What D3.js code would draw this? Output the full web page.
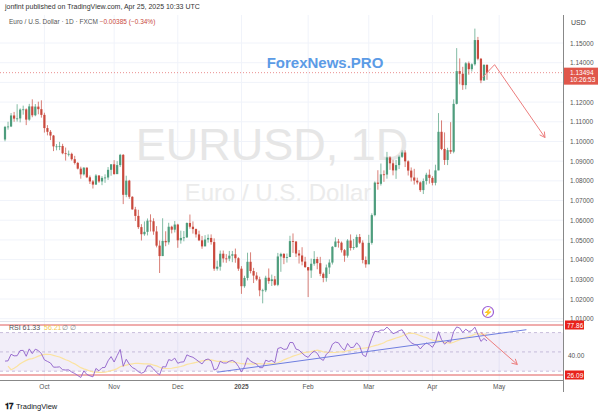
<!DOCTYPE html>
<html><head><meta charset="utf-8">
<script src="https://cdn.jsdelivr.net/npm/d3@7"></script>
<style>body{margin:0;background:#fff}svg{font-family:"Liberation Sans",Arial,sans-serif}</style>
</head><body><svg id="c" width="600" height="415"></svg>
<script>
const startDate = "2024-09-12";
const holidays = ["2024-12-25","2025-01-01"];
const priorCloses = [1.1162,1.1184,1.1118,1.1077,1.1047,1.1073,1.1045,1.1087,1.1110,1.1085,1.1026,1.1036,1.1010];
const closes = [1.1074,1.1076,1.1132,1.1116,1.1117,1.1162,1.1163,1.1111,1.1178,1.1133,1.1177,1.1164,1.1135,
1.1068,1.1049,1.1030,1.0975,1.0975,1.0977,1.0940,1.0936,1.0937,1.0910,1.0891,1.0862,1.0833,1.0867,1.0818,1.0797,1.0781,1.0827,1.0797,1.0815,1.0817,1.0856,1.0884,
1.0834,1.0880,1.0932,1.0729,1.0801,1.0719,1.0655,1.0622,1.0565,1.0529,1.0541,1.0598,1.0595,1.0543,1.0471,1.0418,1.0495,1.0488,1.0567,1.0552,1.0578,
1.0498,1.0510,1.0513,1.0586,1.0567,1.0555,1.0528,1.0498,1.0467,1.0502,1.0510,1.0489,1.0354,1.0364,1.0430,1.0406,1.0405,1.0420,1.0427,1.0407,1.0354,
1.0265,1.0307,1.0389,1.0342,1.0319,1.0300,1.0244,1.0244,1.0308,1.0291,1.0300,1.0272,1.0416,1.0429,1.0409,1.0413,1.0494,1.0492,1.0431,1.0421,1.0390,1.0362,
1.0345,1.0379,1.0403,1.0382,1.0328,1.0307,1.0360,1.0385,1.0465,1.0492,1.0486,1.0448,1.0420,1.0497,1.0459,1.0463,1.0515,1.0486,1.0398,1.0376,
1.0485,1.0626,1.0791,1.0785,1.0833,1.0832,1.0919,1.0889,1.0853,1.0880,1.0922,1.0944,1.0899,1.0852,1.0817,1.0801,1.0792,1.0753,1.0799,1.0831,1.0815,
1.0790,1.0853,1.1049,1.0962,1.0906,1.0956,1.0948,1.1191,1.1357,1.1344,1.1286,1.1397,1.1367,1.1392,1.1515,1.1420,1.1310,1.1389,1.1349];
const highs = [1.1079,1.1100,1.1144,1.1150,1.1189,1.1168,1.1182,1.1168,1.1191,1.1214,1.1190,1.1202,1.1209,
1.1146,1.1083,1.1058,1.1033,1.0987,1.0998,1.0988,1.0969,1.0954,1.0943,1.0927,1.0896,1.0872,1.0869,1.0868,1.0827,1.0804,1.0834,1.0829,1.0824,1.0833,1.0870,1.0885,
1.0905,1.0900,1.0937,1.0936,1.0826,1.0805,1.0722,1.0668,1.0653,1.0580,1.0594,1.0609,1.0630,1.0610,1.0570,1.0497,1.0610,1.0544,1.0587,1.0572,1.0596,
1.0582,1.0547,1.0545,1.0589,1.0629,1.0594,1.0558,1.0547,1.0520,1.0524,1.0528,1.0528,1.0508,1.0395,1.0446,1.0446,1.0428,1.0444,1.0444,1.0456,1.0412,
1.0367,1.0318,1.0435,1.0437,1.0358,1.0336,1.0313,1.0252,1.0318,1.0355,1.0324,1.0317,1.0434,1.0435,1.0433,1.0431,1.0521,1.0533,1.0493,1.0449,1.0463,1.0414,
1.0347,1.0405,1.0443,1.0414,1.0414,1.0335,1.0375,1.0401,1.0469,1.0513,1.0505,1.0492,1.0454,1.0504,1.0528,1.0505,1.0527,1.0530,1.0498,1.0416,
1.0526,1.0635,1.0797,1.0854,1.0888,1.0853,1.0947,1.0925,1.0907,1.0906,1.0929,1.0955,1.0955,1.0904,1.0868,1.0861,1.0816,1.0797,1.0812,1.0841,1.0858,
1.0824,1.0882,1.1144,1.1107,1.1046,1.0968,1.1098,1.1214,1.1474,1.1422,1.1379,1.1403,1.1406,1.1397,1.1573,1.1531,1.1424,1.1392,1.1391];
const lows = [1.1001,1.1060,1.1073,1.1100,1.1101,1.1097,1.1136,1.1083,1.1105,1.1123,1.1128,1.1138,1.1121,
1.1045,1.1031,1.1007,1.0951,1.0955,1.0956,1.0935,1.0903,1.0924,1.0903,1.0883,1.0858,1.0811,1.0827,1.0814,1.0784,1.0761,1.0780,1.0790,1.0778,1.0790,1.0805,1.0826,
1.0832,1.0845,1.0870,1.0682,1.0717,1.0709,1.0654,1.0596,1.0556,1.0497,1.0521,1.0523,1.0543,1.0526,1.0462,1.0332,1.0418,1.0468,1.0476,1.0533,1.0538,
1.0460,1.0481,1.0493,1.0510,1.0557,1.0532,1.0512,1.0494,1.0455,1.0472,1.0486,1.0476,1.0343,1.0344,1.0344,1.0385,1.0384,1.0392,1.0387,1.0384,1.0343,
1.0226,1.0257,1.0294,1.0330,1.0281,1.0293,1.0214,1.0178,1.0235,1.0277,1.0266,1.0266,1.0265,1.0338,1.0377,1.0385,1.0416,1.0434,1.0413,1.0380,1.0371,1.0358,
1.0210,1.0307,1.0369,1.0351,1.0316,1.0285,1.0288,1.0327,1.0375,1.0463,1.0461,1.0436,1.0389,1.0410,1.0446,1.0450,1.0460,1.0479,1.0381,1.0359,
1.0388,1.0476,1.0620,1.0755,1.0776,1.0795,1.0811,1.0856,1.0828,1.0810,1.0860,1.0916,1.0870,1.0827,1.0797,1.0781,1.0782,1.0744,1.0733,1.0781,1.0786,
1.0777,1.0777,1.0854,1.0956,1.0881,1.0880,1.0937,1.0940,1.1188,1.1290,1.1262,1.1265,1.1339,1.1355,1.1385,1.1412,1.1296,1.1307,1.1313];
const priceTicks = [1.01,1.02,1.03,1.04,1.05,1.06,1.07,1.08,1.09,1.10,1.11,1.12,1.14,1.15];
const gridTicks = [1.01,1.02,1.03,1.04,1.05,1.06,1.07,1.08,1.09,1.10,1.11,1.12,1.13,1.14,1.15];
const monthLabels = [["2024-10-01","Oct"],["2024-11-01","Nov"],["2024-12-02","Dec"],["2025-01-02","2025"],["2025-02-03","Feb"],["2025-03-03","Mar"],["2025-04-01","Apr"],["2025-05-01","May"]];
const lastPrice = 1.13494;
const rsiLevels = [77.86, 26.09];

const fmt = d3.utcFormat("%Y-%m-%d");
const dates = [];
let d = new Date(startDate+"T00:00:00Z");
while (dates.length < closes.length + 10) {
  const wd = d.getUTCDay();
  if (wd !== 0 && wd !== 6 && !holidays.includes(fmt(d))) dates.push(fmt(d));
  d = new Date(d.getTime() + 864e5);
}
const opens = closes.map((c,i)=> i===0 ? priorCloses[priorCloses.length-1] : closes[i-1]);

const all = priorCloses.concat(closes);
let ag=0, al=0; const rsiAll=[];
for (let i=1;i<all.length;i++){
  const ch=all[i]-all[i-1], g=Math.max(ch,0), l=Math.max(-ch,0);
  if (i<=14){ ag+=g/14; al+=l/14; } else { ag=(ag*13+g)/14; al=(al*13+l)/14; }
  rsiAll.push(al===0?100:100-100/(1+ag/al));
}
const rsi = rsiAll.slice(rsiAll.length-closes.length);
const rsiMa = rsiAll.map((v,i)=> i<13?null:d3.mean(rsiAll.slice(i-13,i+1))).slice(rsiAll.length-closes.length);

const svg = d3.select("#c");
const x = d3.scaleLinear().domain([0,159]).range([5,487]);
const y = d3.scaleLinear().domain([1.02,1.15]).range([299,43]);
const yr = d3.scaleLinear().domain([26.09,77.86]).range([375,325]);
const xi = s => dates.indexOf(s);

const g = svg.append("g");
gridTicks.forEach(t=>g.append("line").attr("x1",0).attr("x2",563).attr("y1",y(t)).attr("y2",y(t)).attr("stroke","#f0f3fa"));
monthLabels.forEach(([ds])=>{ const xx=x(xi(ds)); g.append("line").attr("x1",xx).attr("x2",xx).attr("y1",15).attr("y2",380).attr("stroke","#f0f3fa");});

svg.append("text").attr("x",272).attr("y",160).attr("text-anchor","middle").attr("font-size",45).attr("fill","#e6e6e6").text("EURUSD, 1D");
svg.append("text").attr("x",278).attr("y",201).attr("text-anchor","middle").attr("font-size",24).attr("fill","#ebebeb").text("Euro / U.S. Dollar");
svg.append("text").attr("x",325).attr("y",68).attr("text-anchor","middle").attr("font-size",15).attr("font-weight","bold").attr("fill","#5b9be6").text("ForexNews.PRO");

svg.append("line").attr("x1",0).attr("x2",563).attr("y1",y(lastPrice)).attr("y2",y(lastPrice)).attr("stroke","#e57373").attr("stroke-dasharray","1,2").attr("stroke-width",0.8);

const up="#4e9d7d", dn="#c9493d";
const cg = svg.append("g");
closes.forEach((c,i)=>{
  const o=opens[i], col=c>=o?up:dn, xx=x(i);
  cg.append("line").attr("x1",xx).attr("x2",xx).attr("y1",y(highs[i])).attr("y2",y(lows[i])).attr("stroke",col).attr("stroke-width",0.7);
  const t=y(Math.max(o,c)), b=y(Math.min(o,c));
  cg.append("rect").attr("x",xx-1.1).attr("width",2.2).attr("y",t).attr("height",Math.max(0.8,b-t)).attr("fill",col);
});

const arrow = (pts)=>{
  svg.append("path").attr("d",d3.line()(pts)).attr("fill","none").attr("stroke","#ec7d7d").attr("stroke-width",1);
  const [a,b]=[pts[pts.length-2],pts[pts.length-1]]; const ang=Math.atan2(b[1]-a[1],b[0]-a[0]);
  const h=[[b[0]-6*Math.cos(ang-0.5),b[1]-6*Math.sin(ang-0.5)],b,[b[0]-6*Math.cos(ang+0.5),b[1]-6*Math.sin(ang+0.5)]];
  svg.append("path").attr("d",d3.line()(h)).attr("fill","none").attr("stroke","#ec7d7d").attr("stroke-width",1);
};
arrow([[x(157.5),y(1.1325)],[x(161.5),y(1.1390)],[545,y(1.1020)]]);

svg.append("circle").attr("cx",488).attr("cy",312).attr("r",5.5).attr("fill","#fff").attr("stroke","#9c5fd6").attr("stroke-width",1.2);
svg.append("text").attr("x",488).attr("y",315).attr("text-anchor","middle").attr("font-size",8).attr("fill","#9c5fd6").text("⚡");

svg.append("line").attr("x1",0).attr("x2",563).attr("y1",321.5).attr("y2",321.5).attr("stroke","#e0e3eb");

svg.append("rect").attr("x",0).attr("width",563).attr("y",yr(70)).attr("height",yr(30)-yr(70)).attr("fill","#7e57c2").attr("opacity",0.1);
[70,50,30].forEach(v=>svg.append("line").attr("x1",0).attr("x2",563).attr("y1",yr(v)).attr("y2",yr(v)).attr("stroke","#b5a6cf").attr("stroke-dasharray","3,3").attr("stroke-width",0.7));
rsiLevels.forEach(v=>svg.append("line").attr("x1",0).attr("x2",563).attr("y1",yr(v)).attr("y2",yr(v)).attr("stroke","#e05a5a").attr("stroke-width",1));
svg.append("path").attr("d",d3.line().defined(v=>v!=null).x((v,i)=>x(i)).y(v=>yr(v))(rsiMa)).attr("fill","none").attr("stroke","#fbe3a0").attr("stroke-width",1.2);
svg.append("path").attr("d",d3.line().x((v,i)=>x(i)).y(v=>yr(v))(rsi)).attr("fill","none").attr("stroke","#8e5fc9").attr("stroke-width",0.9);
svg.append("line").attr("x1",x(70)).attr("y1",yr(29)).attr("x2",x(172)).attr("y2",yr(73)).attr("stroke","#6f7ee0").attr("stroke-width",1);
arrow([[x(157),yr(70)],[x(169),yr(37)]]);
svg.append("text").attr("x",9).attr("y",330).attr("font-size",7).attr("fill","#555").text("RSI  61.33");
svg.append("text").attr("x",44).attr("y",330).attr("font-size",7).attr("fill","#f2c94c").text("56.21");
svg.append("text").attr("x",62).attr("y",330).attr("font-size",7).attr("fill","#888").text("∅  ∅");

svg.append("line").attr("x1",563.5).attr("x2",563.5).attr("y1",15).attr("y2",392).attr("stroke","#888");
svg.append("line").attr("x1",0).attr("x2",563).attr("y1",380.5).attr("y2",380.5).attr("stroke","#888");

const ya = svg.append("g").attr("transform","translate(570,0)").call(d3.axisRight(y).tickValues(priceTicks).tickSize(0).tickFormat(d3.format(".5f")));
ya.select(".domain").remove(); ya.selectAll("text").attr("font-size",6.5).attr("fill","#555").attr("x",0);
svg.append("text").attr("x",571).attr("y",25).attr("font-size",7).attr("fill","#444").text("USD");
svg.append("rect").attr("x",564).attr("y",y(lastPrice)-5).attr("width",34).attr("height",17).attr("fill","#e0564a");
svg.append("text").attr("x",570).attr("y",y(lastPrice)+2).attr("font-size",6.5).attr("fill","#fff").text("1.13494");
svg.append("text").attr("x",570).attr("y",y(lastPrice)+9).attr("font-size",6.5).attr("fill","#fff").text("10:26:53");
rsiLevels.forEach(v=>{
  svg.append("rect").attr("x",565).attr("y",yr(v)-4.5).attr("width",19).attr("height",9).attr("fill","#e8221b");
  svg.append("text").attr("x",567).attr("y",yr(v)+2.5).attr("font-size",6.5).attr("fill","#fff").text(v.toFixed(2));
});
svg.append("text").attr("x",568).attr("y",358).attr("font-size",6.5).attr("fill","#555").text("40.00");

monthLabels.forEach(([ds,l])=>svg.append("text").attr("x",x(xi(ds))).attr("y",389).attr("text-anchor","middle").attr("font-size",6.5).attr("font-weight",l==="2025"?"bold":"normal").attr("fill","#555").text(l));

svg.append("text").attr("x",5).attr("y",9).attr("font-size",7).attr("fill","#333").text("jonfint published on TradingView.com, Apr 25, 2025 10:33 UTC");
const h2 = svg.append("text").attr("x",9).attr("y",24).attr("font-size",6.5).attr("fill","#555");
h2.append("tspan").text("Euro / U.S. Dollar · 1D · FXCM ");
h2.append("tspan").attr("fill","#c9493d").text(" −0.00385 (−0.34%)");

svg.append("text").attr("x",5).attr("y",409).attr("font-size",8).attr("font-weight","bold").attr("fill","#131722").text("𝟏𝟕");
svg.append("text").attr("x",16).attr("y",409).attr("font-size",7.5).attr("fill","#131722").text("TradingView");
</script></body></html>
